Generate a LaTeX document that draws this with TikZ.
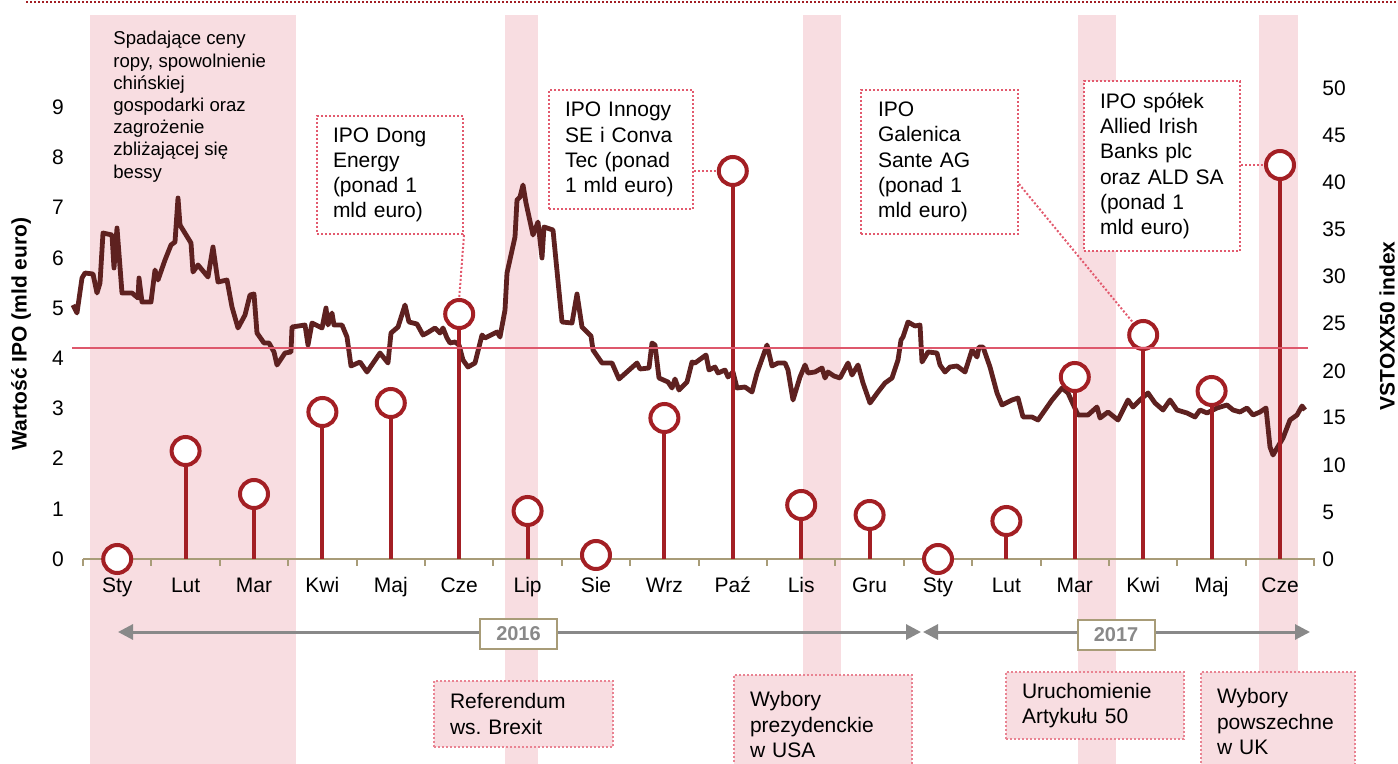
\documentclass[tikz,border=0pt]{standalone}
\usepackage{fontspec}
\setmainfont{Liberation Sans}
\usetikzlibrary{arrows.meta}
\frenchspacing
\definecolor{band}{RGB}{248,221,225}
\definecolor{ipored}{RGB}{163,31,36}
\definecolor{vline}{RGB}{94,33,32}
\definecolor{meanred}{RGB}{222,88,108}
\definecolor{axistan}{RGB}{168,156,120}
\definecolor{dotred}{RGB}{226,90,110}
\definecolor{tlgray}{RGB}{137,137,137}
\begin{document}
\begin{tikzpicture}[x=0.5pt,y=-0.5pt,font=\fontsize{10.5}{12.6}\selectfont,
  lolly/.style={draw=ipored,circle,line width=2pt,fill=white,minimum size=14pt,inner sep=0pt},
  stem/.style={draw=ipored,line width=2pt},
  month/.style={anchor=base},
  ipobox/.style={draw=dotred,densely dotted,line width=1pt,fill=white,anchor=north west,align=left,inner xsep=8pt},
  eventbox/.style={ipobox,fill=band,draw=dotred!75},
  leader/.style={draw=dotred,densely dotted,line width=1pt},
  timeline/.style={draw=tlgray,line width=1.5pt,{Triangle[length=7.5pt,width=7.5pt]}-{Triangle[length=7.5pt,width=7.5pt]}},
  yearbox/.style={draw=axistan,line width=1pt,fill=white,minimum width=38.5pt,minimum height=15pt,text=tlgray,font=\bfseries\fontsize{10}{12}\selectfont},
  axtitle/.style={rotate=90,font=\bfseries\fontsize{10.5}{12}\selectfont}]
\useasboundingbox (0,0) rectangle (1398,764);
\clip (0,0) rectangle (1398,764);
\fill[band] (90,15) rectangle (296,764);
\fill[band] (505,15) rectangle (538,764);
\fill[band] (803,15) rectangle (841,764);
\fill[band] (1078,15) rectangle (1116,764);
\fill[band] (1259,15) rectangle (1298,764);
\draw[ipored,line width=1.2pt,dash pattern=on 1pt off 1pt] (26,2) -- (1398,2);

\draw[axistan,line width=1pt] (83,559) -- (1315,559);
\foreach \k in {0,...,18}
  \draw[axistan,line width=1pt] ({83+68.4*\k},559) -- ({83+68.4*\k},566);
\foreach \m [count=\i from 0] in {Sty,Lut,Mar,Kwi,Maj,Cze,Lip,Sie,Wrz,Paź,Lis,Gru,Sty,Lut,Mar,Kwi,Maj,Cze}
  \node[month] (m\i) at ({117.2+68.4*\i},592) {\m};
\foreach \v in {0,...,9}
  \node (l\v) at (58,{559-50.2*\v}) {\v};
\foreach \v in {0,5,...,50}
  \node[anchor=west,inner xsep=0pt] (r\v) at (1322,{559-9.41*\v}) {\v};
\node[axtitle] (ytl) at (21,334) {Wartość IPO (mld euro)};
\node[axtitle] (ytr) at (1387,326) {VSTOXX50 index};

\draw[vline,line width=2.4pt,line join=round] plot coordinates {
(73,305) (77,313) (82,278) (85,273) (93,274) (97,293) (100,283) (103,233) (112,235)
(114,268) (117,228) (122,293) (132,293) (138,298) (139,278) (142,302) (151,302) (155,270)
(158,280) (165,260) (171,245) (175,242) (178,198) (180,225) (191,243) (193,272) (198,265)
(208,277) (213,247) (218,282) (227,280) (232,307) (238,328) (245,315) (250,295) (254,294)
(257,333) (264,343) (269,343) (274,352) (277,365) (285,353) (291,352) (292,327) (305,325)
(308,345) (312,323) (322,328) (326,308) (328,325) (332,313) (334,325) (342,325) (347,337)
(351,366) (360,362) (367,372) (380,353) (388,363) (391,333) (398,327) (405,305) (409,322)
(417,324) (423,335) (427,333) (435,328) (440,333) (443,328) (447,338) (450,343) (455,342)
(459,345) (463,360) (468,367) (475,363) (482,335) (485,338) (497,332) (500,337) (505,310)
(507,273) (515,237) (517,200) (520,197) (523,185) (526,203) (533,235) (538,222) (542,258)
(544,227) (553,230) (562,322) (572,323) (577,294) (582,327) (591,336) (593,350) (602,363)
(612,363) (619,379) (637,363) (640,369) (649,368) (652,343) (655,345) (659,378) (668,382)
(672,388) (675,379) (679,390) (687,382) (692,362) (695,363) (706,355) (709,370) (715,367)
(718,373) (725,370) (728,377) (733,372) (737,388) (745,387) (752,392) (757,373) (767,345)
(772,366) (778,363) (785,363) (788,370) (793,400) (800,377) (805,365) (808,373) (815,372)
(822,368) (825,378) (828,372) (834,376) (840,378) (848,363) (852,375) (858,365) (863,383)
(870,403) (878,392) (885,383) (892,378) (898,360) (901,340) (903,337) (908,322) (915,326)
(920,325) (922,362) (928,352) (937,353) (940,365) (945,372) (950,367) (957,366) (965,372)
(972,350) (977,357) (979,347) (983,347) (990,367) (997,393) (1002,405) (1012,400) (1018,398)
(1023,417) (1032,417) (1038,420) (1052,400) (1062,388) (1068,393) (1078,415) (1088,415)
(1097,407) (1100,418) (1108,412) (1118,420) (1128,400) (1133,407) (1140,400) (1148,393)
(1155,403) (1163,410) (1170,400) (1177,410) (1187,413) (1195,417) (1200,410) (1207,413)
(1217,408) (1227,405) (1233,410) (1240,412) (1247,408) (1253,415) (1260,412) (1266,408)
(1270,447) (1273,455) (1283,438) (1290,420) (1297,415) (1302,406) (1305,410)};

\foreach \y [count=\i from 0] in {559,451,494,412,403,314,511,555,418,171,505,515,559,521,377,335,391,165}{
  \coordinate (b\i) at ({117.2+68.4*\i},559);
  \node[lolly] (c\i) at ({117.2+68.4*\i},\y) {};
}
\foreach \i in {1,...,6,8,9,10,11,13,14,15,16,17}
  \draw[stem] (b\i) -- (c\i.south);
\draw[meanred,line width=1.3pt] (72,348) -- (1308,348);

\node[anchor=north west,inner sep=0pt,align=left,font=\fontsize{9.3}{11.1}\selectfont] (oil) at (113,31)
  {Spadające ceny\\ropy, spowolnienie\\chińskiej\\gospodarki oraz\\zagrożenie\\zbliżającej się\\bessy};
\node[ipobox,text width=57pt,minimum height=59pt] (dong) at (316,115)
  {IPO Dong\\Energy\\(ponad 1\\mld euro)};
\node[ipobox,text width=56pt,minimum height=59.5pt] (inno) at (548,89)
  {IPO Innogy\\SE i Conva\\Tec (ponad\\1 mld euro)};
\node[ipobox,text width=61.5pt,inner xsep=8.5pt,minimum height=72pt] (gale) at (860,89)
  {IPO\\Galenica\\Sante AG\\(ponad 1\\mld euro)};
\node[ipobox,text width=62pt,minimum height=85pt] (aib) at (1083,80)
  {IPO spółek\\Allied Irish\\Banks plc\\oraz ALD SA\\(ponad 1\\mld euro)};
\draw[leader] (dong.south east) -- (c5.north);
\draw[leader] (inno.east |- c9.west) -- (c9.west);
\draw[leader] ([yshift=-11pt]gale.east) -- (c15);
\draw[leader] (aib.east |- c17.west) -- (c17.west);

\coordinate (t0) at (118,632);
\coordinate (t1) at (921,632);
\coordinate (t2) at (923,632);
\coordinate (t3) at (1310,632);
\draw[timeline] (t0) -- (t1);
\draw[timeline] (t2) -- (t3);
\node[yearbox] (y16) at (518.5,634) {2016};
\node[yearbox] (y17) at (1116,634.5) {2017};

\node[eventbox,text width=73.5pt,minimum height=33pt] (brex) at (433,680)
  {Referendum\\ws. Brexit};
\node[eventbox,text width=73pt,minimum height=49.5pt] (usa) at (733,674)
  {Wybory\\prezydenckie\\w USA};
\node[eventbox,text width=73pt,minimum height=33.5pt] (art) at (1005,671)
  {Uruchomienie\\Artykułu 50};
\node[eventbox,text width=61pt,minimum height=49.5pt] (uk) at (1200,671)
  {Wybory\\powszechne\\w UK};
\end{tikzpicture}
\end{document}
